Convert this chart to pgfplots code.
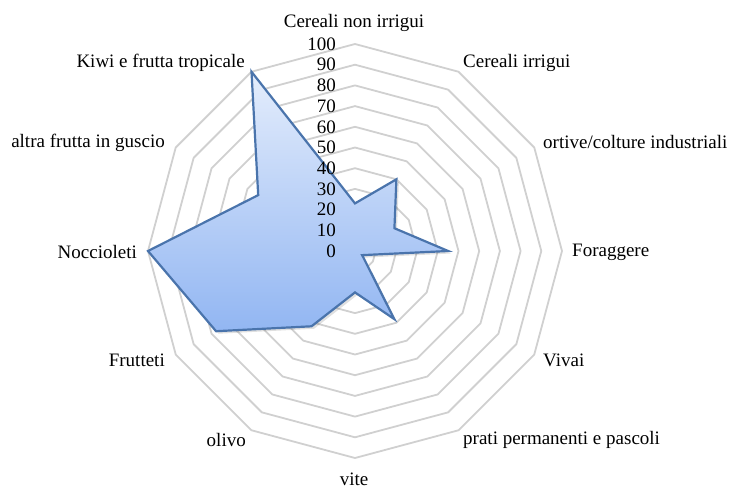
\documentclass[border=0pt]{standalone}
\usepackage{fontspec}
\setmainfont{Liberation Serif}
\usepackage{pgfplots}
\pgfplotsset{compat=1.18}
\usepackage{pgfplotstable}
\usepgfplotslibrary{polar}

\definecolor{gridc}{RGB}{208,208,208}
\definecolor{serline}{RGB}{74,116,172}
\definecolor{filltop}{RGB}{228,237,252}
\definecolor{fillbot}{RGB}{146,182,242}

% angle (deg, clockwise from top) and share
\pgfplotstableread{
angle value
90   23
60   40
30   22
0    45
-30  4
-60  38
-90  20
-120 42
-150 77.5
180  100
150  54
120  100
}\radardata

\begin{document}
\begin{tikzpicture}[font=\fontsize{19}{22}\selectfont]
\begin{polaraxis}[
    hide axis,
    ymin=0, ymax=100,
    width=414pt, height=414pt,
    scale only axis,
    clip=false,
]
\coordinate (C) at (axis cs:0,0);
\pgfplotsinvokeforeach{10,20,...,100}{
  \addplot[gridc, line width=1.8pt, line join=round, mark=none]
    coordinates {(90,#1)(60,#1)(30,#1)(0,#1)(-30,#1)(-60,#1)(-90,#1)
                 (-120,#1)(-150,#1)(180,#1)(150,#1)(120,#1)} -- cycle;
}
% soft shadow
\addplot[draw=none, fill=black, fill opacity=0.12, mark=none,
    shift={(2.5pt,-2.5pt)}] table[x=angle, y=value] {\radardata} -- cycle;
\addplot[draw=serline, line width=2.2pt, line join=miter, mark=none,
    top color=filltop, bottom color=fillbot]
    table[x=angle, y=value] {\radardata} -- cycle;

\pgfplotsinvokeforeach{0,10,...,100}{
  \node[anchor=east, inner sep=0pt] at ([xshift=-19pt]axis cs:90,#1) {#1};
}
\end{polaraxis}

% category labels
\node[anchor=center, inner sep=0pt] at ([shift={(-1pt,228pt)}]C) {Cereali non irrigui};
\node[anchor=west, inner sep=0pt] at ([shift={(108pt,188pt)}]C) {Cereali irrigui};
\node[anchor=west, inner sep=0pt] at ([shift={(188pt,109pt)}]C) {ortive/colture industriali};
\node[anchor=west, inner sep=0pt] at ([shift={(217pt,-1pt)}]C) {Foraggere};
\node[anchor=west, inner sep=0pt] at ([shift={(188pt,-109pt)}]C) {Vivai};
\node[anchor=west, inner sep=0pt] at ([shift={(108pt,-189pt)}]C) {prati permanenti e pascoli};
\node[anchor=center, inner sep=0pt] at ([shift={(-1pt,-228pt)}]C) {vite};
\node[anchor=east, inner sep=0pt] at ([shift={(-109pt,-189pt)}]C) {olivo};
\node[anchor=east, inner sep=0pt] at ([shift={(-190pt,-109pt)}]C) {Frutteti};
\node[anchor=east, inner sep=0pt] at ([shift={(-218pt,-1pt)}]C) {Noccioleti};
\node[anchor=east, inner sep=0pt] at ([shift={(-190pt,108pt)}]C) {altra frutta in guscio};
\node[anchor=east, inner sep=0pt] at ([shift={(-110pt,188pt)}]C) {Kiwi e frutta tropicale};

\pgfresetboundingbox
\path (C) ++(-355pt,-237pt) rectangle ++(730pt,488pt);
\end{tikzpicture}
\end{document}
